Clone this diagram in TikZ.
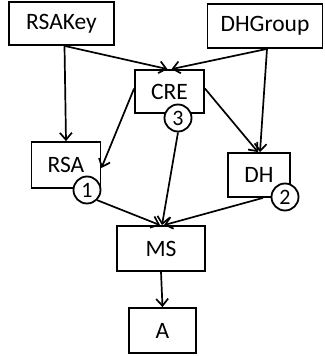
\documentclass[tikz,border=0pt]{standalone}
\usepackage{fontspec}
\setmainfont{Carlito}
\usetikzlibrary{arrows.meta}
\begin{document}
\begin{tikzpicture}[x=1pt,y=-1pt,
  box/.style={draw,line width=1.8pt,rectangle,inner sep=0pt,font=\fontsize{23.5}{25}\selectfont},
  num/.style={draw,line width=1.8pt,circle,fill=white,inner sep=0pt,minimum size=27pt,font=\fontsize{22}{23}\selectfont},
  conn/.style={line width=1.7pt,-{Straight Barb[length=7pt,width=12pt]}}]
\useasboundingbox (0,0) rectangle (324,356);
\node[box,minimum width=105pt,minimum height=43pt] (rsakey) at (61.5,23.5) {RSAKey};
\node[box,minimum width=115pt,minimum height=44pt] (dhgroup) at (265,26) {DHGroup};
\node[box,minimum width=69pt,minimum height=43pt] (cre) at (169.5,91.5) {CRE};
\node[box,minimum width=69pt,minimum height=46pt] (rsa) at (66,165) {RSA};
\node[box,minimum width=62pt,minimum height=44pt] (dh) at (259,175) {DH};
\node[box,minimum width=88pt,minimum height=45pt] (ms) at (161,248.5) {MS};
\node[box,minimum width=67pt,minimum height=45pt] (a) at (162.5,330.5) {A};
\node[num] (c3) at (178,118) {3};
\node[num] (c1) at (87,190) {1};
\node[num] (c2) at (285,197) {2};
\coordinate (rk) at ([xshift=3pt]rsakey.south);
\coordinate (dg) at ([xshift=2pt]dhgroup.south);
\draw[conn] (rk) -- ([xshift=-2pt]cre.north);
\draw[conn] (rk) -- (rsa.north);
\draw[conn] (dg) -- ([xshift=2pt]cre.north);
\draw[conn] (dg) -- ([xshift=1pt]dh.north);
\draw[conn] ([yshift=3pt]cre.west) -- ([yshift=-3pt]rsa.east);
\draw[conn] ([yshift=3pt]cre.east) -- ([xshift=-1pt]dh.north);
\draw[conn] (c3.south) -- ([xshift=1pt]ms.north);
\draw[conn] (c1.south east) -- ([xshift=-1pt]ms.north);
\draw[conn] ([xshift=4pt]dh.south) -- ([xshift=3pt]ms.north);
\draw[conn] (ms.south) -- (a.north);
\end{tikzpicture}
\end{document}
